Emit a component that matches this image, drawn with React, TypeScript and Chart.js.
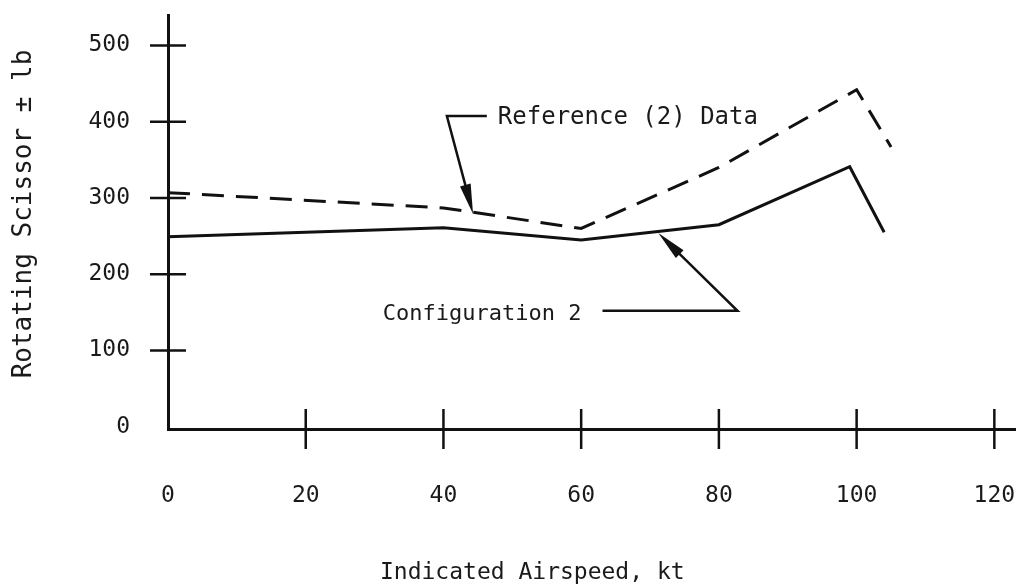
import React, { useEffect, useRef } from 'react';
import { Chart, registerables } from 'chart.js';

Chart.register(...registerables);

// ---- data ----
const refSpeeds = [0, 40, 60, 80, 100, 105];
const refValues = [307, 287, 260, 340, 442, 367];
const cfgSpeeds = [0, 40, 60, 80, 99, 104];
const cfgValues = [249, 261, 245, 265, 341, 255];

const xTickValues = [0, 20, 40, 60, 80, 100, 120];
const yTickValues = [0, 100, 200, 300, 400, 500];

const xTitle = 'Indicated Airspeed, kt';
const yTitle = 'Rotating Scissor \u00B1 lb';

const refLabel = 'Reference (2) Data';
const refLabelAt = [47.9, 405];
const refLeader = [[46.3, 407.5], [40.5, 407.5], [44.3, 279]];

const cfgLabel = 'Configuration 2';
const cfgLabelAt = [31.2, 147];
const cfgLeader = [[63.1, 152], [82.7, 152], [71.2, 254]];

const INK = '#111111';
const TEXT = '#1a1a1a';
const FONT = "'DejaVu Sans Mono', monospace";

const zeroPad = (s: any) => {
  s.paddingLeft = 0;
  s.paddingRight = 0;
  s.paddingTop = 0;
  s.paddingBottom = 0;
};

const paperMarks = {
  id: 'paperMarks',
  afterDatasetsDraw(chart: any) {
    const { ctx, chartArea } = chart;
    const xs = chart.scales.x;
    const ys = chart.scales.y;
    const ax = chartArea.left;
    const ay = chartArea.bottom;
    ctx.save();
    ctx.strokeStyle = INK;
    ctx.fillStyle = INK;
    ctx.lineWidth = 2.5;
    ctx.lineCap = 'butt';
    const seg = (x1: number, y1: number, x2: number, y2: number) => {
      ctx.beginPath();
      ctx.moveTo(x1, y1);
      ctx.lineTo(x2, y2);
      ctx.stroke();
    };
    yTickValues.forEach((v) => {
      if (v === 0) return;
      const py = ys.getPixelForValue(v);
      seg(ax - 18, py, ax + 18, py);
    });
    xTickValues.forEach((v) => {
      if (v === 0) return;
      const px = xs.getPixelForValue(v);
      seg(px, ay - 20, px, ay + 20);
    });

    const leader = (pts: number[][]) => {
      const p = pts.map(([a, b]) => [xs.getPixelForValue(a), ys.getPixelForValue(b)]);
      const tip = p[p.length - 1];
      const prev = p[p.length - 2];
      const dx = tip[0] - prev[0];
      const dy = tip[1] - prev[1];
      const len = Math.hypot(dx, dy);
      const ux = dx / len;
      const uy = dy / len;
      const L = 30;
      const W = 5.5;
      ctx.lineWidth = 2.5;
      ctx.beginPath();
      ctx.moveTo(p[0][0], p[0][1]);
      for (let i = 1; i < p.length - 1; i++) ctx.lineTo(p[i][0], p[i][1]);
      ctx.lineTo(tip[0] - ux * L * 0.6, tip[1] - uy * L * 0.6);
      ctx.stroke();
      const bx = tip[0] - ux * L;
      const by = tip[1] - uy * L;
      ctx.beginPath();
      ctx.moveTo(tip[0], tip[1]);
      ctx.lineTo(bx - uy * W, by + ux * W);
      ctx.lineTo(bx + uy * W, by - ux * W);
      ctx.closePath();
      ctx.fill();
    };
    leader(refLeader);
    leader(cfgLeader);

    ctx.fillStyle = TEXT;
    ctx.textBaseline = 'middle';
    ctx.textAlign = 'left';
    ctx.font = `24px ${FONT}`;
    ctx.fillText(refLabel, xs.getPixelForValue(refLabelAt[0]), ys.getPixelForValue(refLabelAt[1]));
    ctx.font = `22px ${FONT}`;
    ctx.fillText(cfgLabel, xs.getPixelForValue(cfgLabelAt[0]), ys.getPixelForValue(cfgLabelAt[1]));

    // axis titles
    ctx.textAlign = 'center';
    ctx.font = `23px ${FONT}`;
    ctx.fillText(xTitle, xs.getPixelForValue(52.9), ay + 144);
    ctx.save();
    ctx.translate(ax - 144, ys.getPixelForValue(279));
    ctx.rotate(-Math.PI / 2);
    ctx.font = `26px ${FONT}`;
    ctx.fillText(yTitle, 0, 0);
    ctx.restore();
    ctx.restore();
  },
};

export default function App() {
  const canvasRef = useRef<HTMLCanvasElement | null>(null);

  useEffect(() => {
    document.body.style.margin = '0';
    document.body.style.background = '#ffffff';
    const canvas = canvasRef.current;
    if (!canvas) return;
    const chart = new Chart(canvas, {
      type: 'line',
      data: {
        datasets: [
          {
            label: 'Reference (2) Data',
            data: refSpeeds.map((s, i) => ({ x: s, y: refValues[i] })),
            borderColor: INK,
            borderWidth: 3,
            borderDash: [22, 12],
            pointRadius: 0,
            tension: 0,
            fill: false,
          },
          {
            label: 'Configuration 2',
            data: cfgSpeeds.map((s, i) => ({ x: s, y: cfgValues[i] })),
            borderColor: INK,
            borderWidth: 3,
            pointRadius: 0,
            tension: 0,
            fill: false,
          },
        ],
      },
      options: {
        animation: false,
        responsive: false,
        layout: { padding: { top: 15, right: 8, left: 0, bottom: 0 } },
        plugins: {
          legend: { display: false },
          tooltip: { enabled: false },
        },
        scales: {
          x: {
            type: 'linear',
            min: 0,
            max: 123,
            afterBuildTicks: (s: any) => {
              s.ticks = xTickValues.map((v) => ({ value: v }));
            },
            afterFit: (s: any) => {
              s.height = 158;
              zeroPad(s);
            },
            grid: { display: false, drawTicks: false },
            border: { display: true, color: INK, width: 3 },
            ticks: {
              padding: 53,
              color: TEXT,
              font: { family: FONT, size: 23 },
              maxRotation: 0,
              autoSkip: false,
            },
            title: { display: false },
          },
          y: {
            type: 'linear',
            min: -3,
            max: 540,
            afterBuildTicks: (s: any) => {
              s.ticks = yTickValues.map((v) => ({ value: v }));
            },
            afterFit: (s: any) => {
              s.width = 168;
              zeroPad(s);
            },
            grid: { display: false, drawTicks: false },
            border: { display: true, color: INK, width: 3 },
            ticks: {
              padding: 38,
              color: TEXT,
              font: { family: FONT, size: 23 },
              autoSkip: false,
            },
            title: { display: false },
          },
        },
      },
      plugins: [paperMarks],
    });
    return () => chart.destroy();
  }, []);

  return (
    <div style={{ width: 1023, height: 587, background: '#ffffff' }}>
      <canvas ref={canvasRef} width={1023} height={587} style={{ display: 'block' }} />
    </div>
  );
}
